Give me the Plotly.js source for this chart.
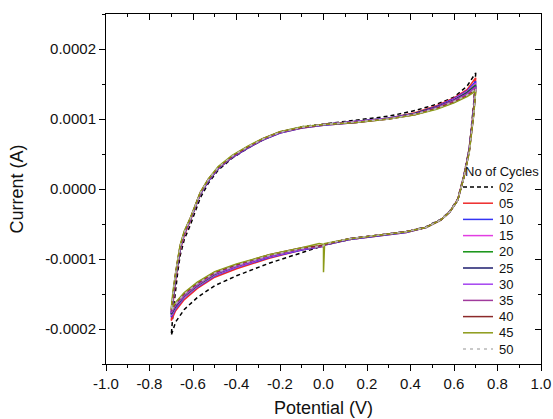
<!DOCTYPE html>
<html><head><meta charset="utf-8">
<script src="https://cdn.plot.ly/plotly-3.0.1.min.js"></script>
<style>html,body{margin:0;padding:0;background:#fff}#chart{width:553px;height:419px}</style>
</head><body><div id="chart"></div>
<script>
// Potential (V): reverse sweep 0.7 -> -0.7, then forward sweep -0.7 -> 0.7
const potential = [0.700,0.690,0.670,0.645,0.617,0.580,0.540,0.470,0.380,0.260,0.120,0.005,0.000,0.000,-0.020,-0.100,-0.250,-0.400,-0.500,-0.580,-0.640,-0.680,-0.700,
  -0.692,-0.682,-0.670,-0.659,-0.640,-0.613,-0.567,-0.530,-0.484,-0.420,-0.350,-0.280,-0.200,-0.100,0.000,0.150,0.300,0.420,0.520,0.600,0.660,0.700];

const cycles = ['02','05','10','15','20','25','30','35','40','45','50'];

// Current in microamperes (µA)
const current02 = [166,120,58,19,-14,-32,-43,-54,-61,-66,-72,-80,-82,-82,-83,-91,-106,-124,-138,-155,-172,-190,-209,
  -178,-148,-118,-95,-72,-52,-13,8,27,44,58,70,81,89,93,98,104,112,121,131,147,166];
const current05 = [159,115,57,18,-15,-33,-44,-55,-62,-67,-72,-80,-82,-82,-83,-87,-99,-114,-126,-142,-158,-174,-188,
  -160,-135,-109,-88,-66,-46,-8,11,29,45,58,70,80,87,91,95,101,109,119,130,142,159];
const current10 = [154,112,56,17,-16,-33,-44,-55,-62,-67,-72,-80,-82,-82,-83,-87,-98,-112,-124,-140,-155,-171,-183,
  -156,-132,-107,-86,-64,-45,-8,11,29,45,58,70,80,87,91,95,101,108,118,129,140,154];
const current15 = [151,110,55,17,-16,-33,-44,-55,-61,-66,-71,-79,-81,-81,-82,-86,-97,-111,-123,-139,-154,-169,-181,
  -154,-130,-105,-85,-64,-44,-7,12,30,46,59,71,81,88,92,96,101,108,117,128,139,151];
const current20 = [149,109,55,17,-16,-33,-44,-55,-61,-66,-71,-79,-81,-81,-82,-85,-96,-110,-122,-138,-153,-168,-179,
  -152,-129,-105,-84,-63,-44,-7,12,30,46,59,71,81,88,92,96,101,108,117,127,138,149];
const current25 = [147,108,55,17,-16,-33,-44,-55,-61,-66,-71,-79,-81,-81,-82,-85,-96,-110,-121,-137,-152,-167,-178,
  -151,-128,-104,-84,-63,-44,-7,12,30,46,59,71,81,88,92,96,101,108,117,127,137,147];
const current30 = [146,107,54,17,-16,-33,-44,-55,-61,-66,-71,-79,-81,-81,-82,-85,-96,-110,-121,-137,-152,-166,-177,
  -150,-127,-103,-83,-63,-44,-7,12,30,46,59,71,81,88,92,96,101,107,116,126,136,146];
const current35 = [145,107,54,17,-16,-33,-44,-55,-61,-66,-71,-79,-81,-81,-82,-85,-95,-109,-120,-136,-151,-165,-176,
  -149,-126,-102,-82,-62,-43,-6,13,31,47,60,71,81,88,92,96,100,107,116,126,135,145];
const current40 = [142,105,53,16,-16,-33,-44,-55,-61,-66,-71,-79,-80,-80,-81,-84,-94,-108,-119,-134,-149,-163,-173,
  -147,-124,-101,-81,-61,-42,-5,14,31,47,60,72,82,88,92,95,100,106,115,124,133,142];
const current45 = [140,104,52,16,-16,-33,-44,-55,-61,-66,-71,-78,-119,-79,-78,-84,-94,-107,-118,-133,-148,-162,-171,
  -146,-123,-100,-80,-60,-42,-5,14,32,48,61,72,82,89,92,95,100,106,114,123,132,140];
const current50 = [143,106,53,16,-16,-33,-44,-55,-61,-66,-71,-79,-81,-81,-82,-85,-95,-109,-120,-135,-150,-164,-174,
  -148,-125,-102,-82,-62,-43,-6,13,31,47,60,71,81,88,92,96,100,107,115,125,134,143];

const currents = [current02,current05,current10,current15,current20,current25,current30,current35,current40,current45,current50];

const xTickVals = [-1.0,-0.8,-0.6,-0.4,-0.2,0.0,0.2,0.4,0.6,0.8,1.0];
const xTickText = ['-1.0','-0.8','-0.6','-0.4','-0.2','0.0','0.2','0.4','0.6','0.8','1.0'];
const yTickVals = [-0.0002,-0.0001,0,0.0001,0.0002];
const yTickText = ['-0.0002','-0.0001','0.0000','0.0001','0.0002'];

const colors = ['#000000','#ee2b2b','#3434f4','#e23ee2','#129212','#1c1c6e','#a544f0','#a03a9c','#8c2a2a','#8c9a18','#b8b8b8'];
const dashes = ['4px,3px','solid','solid','solid','solid','solid','solid','solid','solid','solid','3px,4px'];

const FONT = 'Arial, "Liberation Sans", sans-serif';

const traces = cycles.map((c, i) => ({
  type: 'scatter', mode: 'lines', name: c,
  x: potential, y: currents[i].map(v => v * 1e-6),
  line: {color: colors[i], width: 1.5, dash: dashes[i]},
  showlegend: false, hoverinfo: 'skip'
}));
traces.push({type:'scatter', mode:'lines', x:[], y:[], xaxis:'x2', yaxis:'y2', showlegend:false, hoverinfo:'skip'});

// manual legend geometry (pixels in the 553x419 frame)
const plotL = 106, plotR = 541, plotT = 14, plotB = 364;
const pxX = v => (v - plotL) / (plotR - plotL);
const pxY = v => (plotB - v) / (plotB - plotT);
const legX0 = 463, legX1 = 493, legTextX = 497, legTitleY = 171, legRow0 = 187, legStep = 16.2;

const shapes = cycles.map((c, i) => ({
  type: 'line', xref: 'paper', yref: 'paper',
  x0: pxX(legX0), x1: pxX(legX1), y0: pxY(legRow0 + legStep * i), y1: pxY(legRow0 + legStep * i),
  line: {color: colors[i], width: 1.5, dash: dashes[i]}
}));
const annotations = cycles.map((c, i) => ({
  xref: 'paper', yref: 'paper', x: pxX(legTextX), y: pxY(legRow0 + legStep * i),
  xanchor: 'left', yanchor: 'middle', text: c, showarrow: false,
  font: {family: FONT, size: 13, color: '#111'}
}));
annotations.push({
  xref: 'paper', yref: 'paper', x: pxX(legX0), y: pxY(legTitleY),
  xanchor: 'left', yanchor: 'middle', text: 'No of Cycles', showarrow: false,
  font: {family: FONT, size: 13, color: '#111'}
});

const layout = {
  width: 553, height: 419,
  margin: {l: plotL, r: 553 - plotR, t: plotT, b: 419 - plotB},
  paper_bgcolor: '#fff', plot_bgcolor: '#fff',
  font: {family: FONT, color: '#111'},
  xaxis: {
    range: [-1, 1], tickmode: 'array', tickvals: xTickVals, ticktext: xTickText,
    ticks: 'outside', ticklen: 6, tickwidth: 1, tickcolor: '#000',
    minor: {tickmode: 'linear', tick0: -1, dtick: 0.1, ticks: 'outside', ticklen: 3, tickcolor: '#000'},
    showline: true, linecolor: '#000', linewidth: 1, showgrid: false, zeroline: false,
    tickfont: {size: 15, family: FONT, color: '#111'},
    title: {text: 'Potential (V)', font: {size: 18, family: FONT, color: '#111'}, standoff: 10}
  },
  yaxis: {
    range: [-0.00025, 0.00025], tickmode: 'array', tickvals: yTickVals, ticktext: yTickText,
    ticks: 'outside', ticklen: 6, tickwidth: 1, tickcolor: '#000',
    minor: {tickmode: 'linear', tick0: 0, dtick: 0.00005, ticks: 'outside', ticklen: 3, tickcolor: '#000'},
    showline: true, linecolor: '#000', linewidth: 1, showgrid: false, zeroline: false,
    tickfont: {size: 15, family: FONT, color: '#111'},
    title: {text: 'Current (A)', font: {size: 18, family: FONT, color: '#111'}, standoff: 16}
  },
  xaxis2: {
    overlaying: 'x', side: 'top', range: [-1, 1], tickmode: 'array', tickvals: xTickVals,
    ticks: 'inside', ticklen: 6, tickcolor: '#000', showticklabels: false,
    minor: {tickmode: 'linear', tick0: -1, dtick: 0.1, ticks: 'inside', ticklen: 3, tickcolor: '#000'},
    showline: true, linecolor: '#000', linewidth: 1, showgrid: false, zeroline: false
  },
  yaxis2: {
    overlaying: 'y', side: 'right', range: [-0.00025, 0.00025], tickmode: 'array', tickvals: yTickVals,
    ticks: 'inside', ticklen: 6, tickcolor: '#000', showticklabels: false,
    minor: {tickmode: 'linear', tick0: 0, dtick: 0.00005, ticks: 'inside', ticklen: 3, tickcolor: '#000'},
    showline: true, linecolor: '#000', linewidth: 1, showgrid: false, zeroline: false
  },
  shapes: shapes,
  annotations: annotations
};

Plotly.newPlot('chart', traces, layout, {displayModeBar: false, staticPlot: true});
</script>
</body></html>
